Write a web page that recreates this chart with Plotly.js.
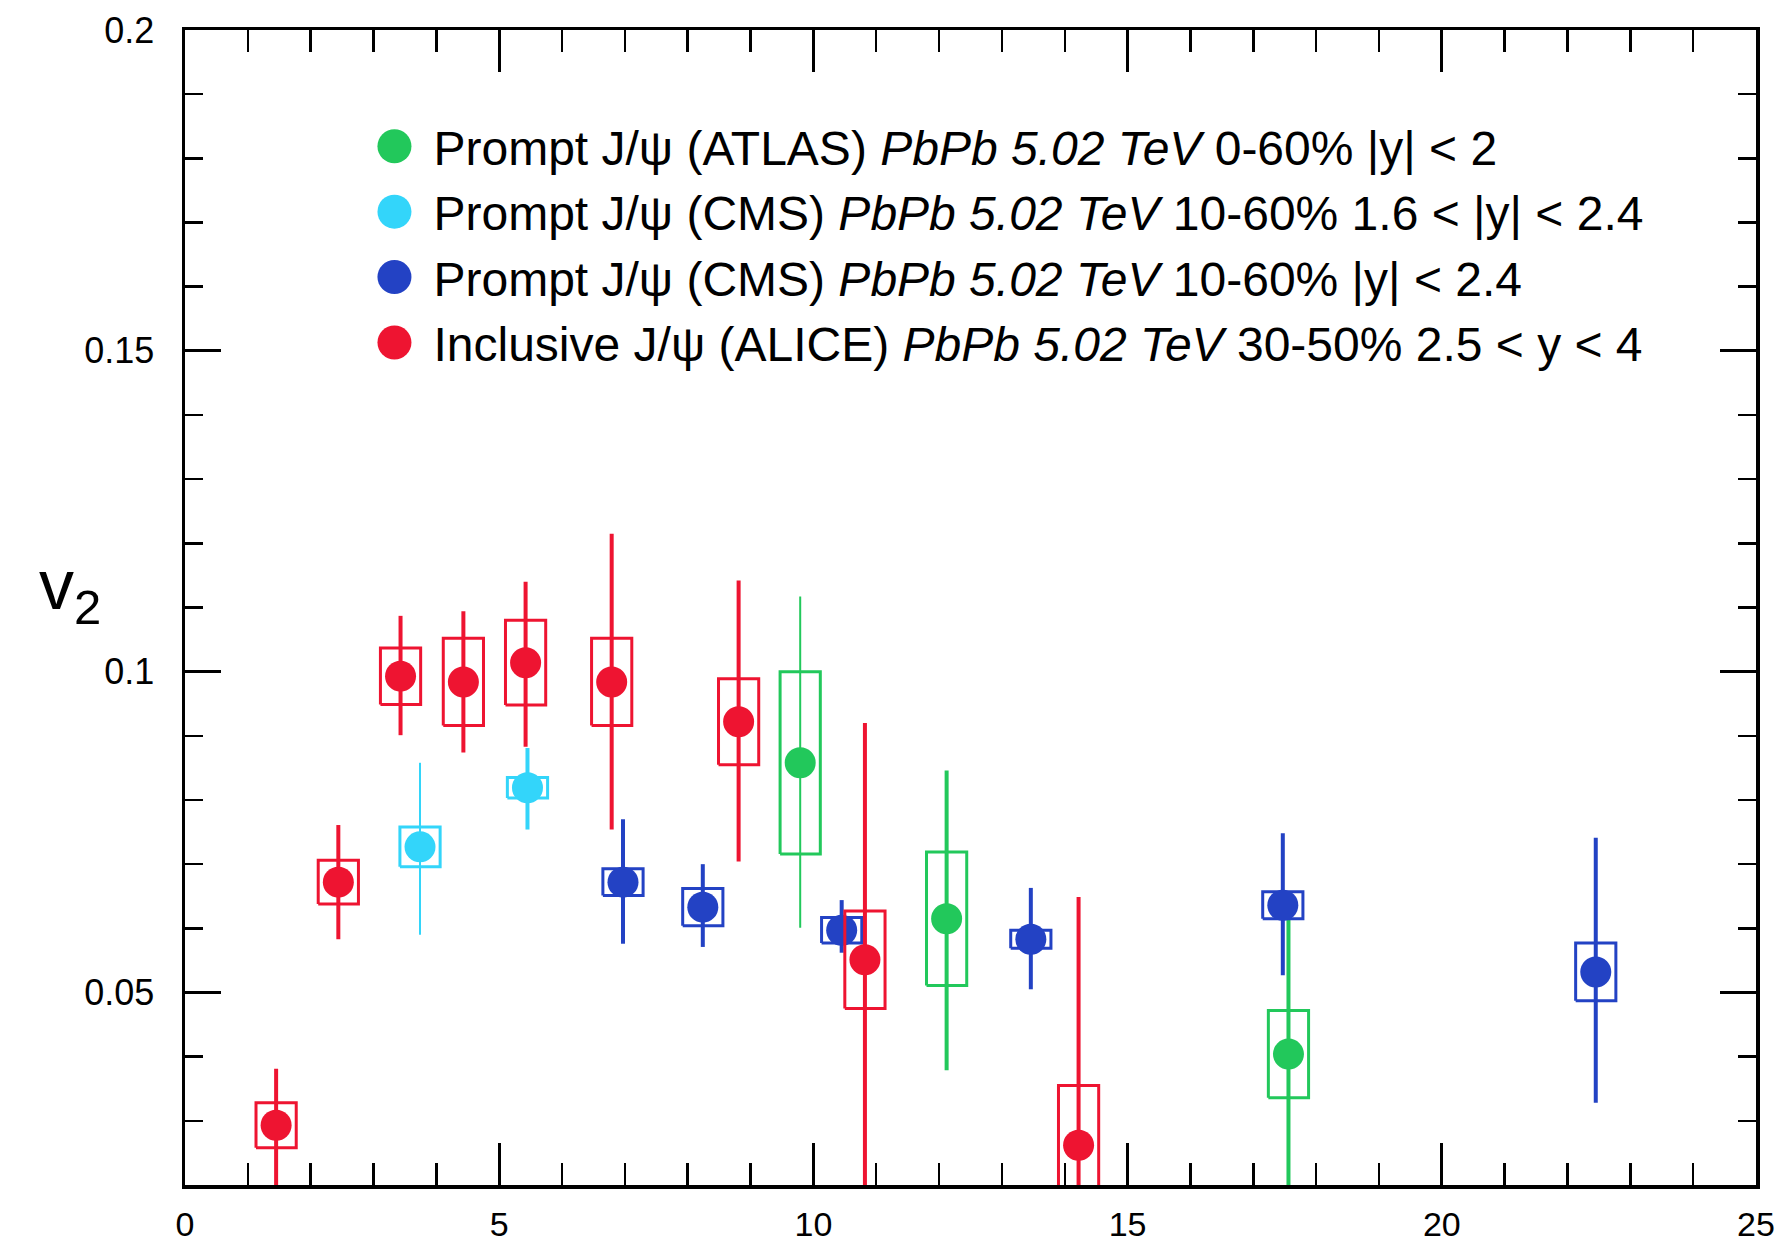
<!DOCTYPE html>
<html>
<head>
<meta charset="utf-8">
<script src="https://cdn.plot.ly/plotly-3.0.1.min.js"></script>
<style>
html, body { margin: 0; padding: 0; background: #fff; }
#chart { width: 1782px; height: 1248px; }
</style>
</head>
<body>
<div id="chart"></div>
<script>
// ---------- DATA ----------
// Prompt J/psi (ATLAS) PbPb 5.02 TeV 0-60% |y|<2
const atlasPt        = [9.79, 12.12, 17.56];
const atlasV2        = [0.0858, 0.0615, 0.0404];
const atlasStatUp    = [0.0259, 0.0231, 0.0226];
const atlasStatDown  = [0.0257, 0.0236, 0.0250];
const atlasSys       = [0.0142, 0.0104, 0.0068];

// Prompt J/psi (CMS) PbPb 5.02 TeV 10-60% 1.6<|y|<2.4
const cmsFwdPt       = [3.74, 5.45];
const cmsFwdV2       = [0.0727, 0.0819];
const cmsFwdStatUp   = [0.0131, 0.0062];
const cmsFwdStatDown = [0.0137, 0.0065];
const cmsFwdSys      = [0.0031, 0.0016];

// Prompt J/psi (CMS) PbPb 5.02 TeV 10-60% |y|<2.4
const cmsPt          = [6.97, 8.24, 10.45, 13.46, 17.47, 22.45];
const cmsV2          = [0.0672, 0.0633, 0.0597, 0.0583, 0.0636, 0.0532];
const cmsStatUp      = [0.0098, 0.0067, 0.0047, 0.0080, 0.0112, 0.0209];
const cmsStatDown    = [0.0096, 0.0062, 0.0035, 0.0078, 0.0109, 0.0204];
const cmsSys         = [0.0021, 0.0029, 0.0020, 0.0014, 0.0021, 0.0045];

// Inclusive J/psi (ALICE) PbPb 5.02 TeV 30-50% 2.5<y<4
const alicePt        = [1.45, 2.44, 3.43, 4.43, 5.42, 6.79, 8.81, 10.82, 14.22];
const aliceV2        = [0.0293, 0.0672, 0.0993, 0.0984, 0.1014, 0.0984, 0.0922, 0.0551, 0.0262];
const aliceStatUp    = [0.0088, 0.0089, 0.0094, 0.0110, 0.0126, 0.0231, 0.0220, 0.0369, 0.0387];
const aliceStatDown  = [0.0120, 0.0089, 0.0092, 0.0110, 0.0131, 0.0230, 0.0218, 0.0400, 0.0120];
const aliceSys       = [0.0035, 0.0034, 0.0044, 0.0068, 0.0066, 0.0068, 0.0067, 0.0076, 0.0093];

const legendLabels = [
  'Prompt J/ψ (ATLAS) <i>PbPb 5.02 TeV</i> 0-60% |y| &lt; 2',
  'Prompt J/ψ (CMS) <i>PbPb 5.02 TeV</i> 10-60% 1.6 &lt; |y| &lt; 2.4',
  'Prompt J/ψ (CMS) <i>PbPb 5.02 TeV</i> 10-60% |y| &lt; 2.4',
  'Inclusive J/ψ (ALICE) <i>PbPb 5.02 TeV</i> 30-50% 2.5 &lt; y &lt; 4'
];
const xTickVals = [0, 5, 10, 15, 20, 25];
const yTickVals = [0.05, 0.1, 0.15, 0.2];

// ---------- STYLE ----------
const FONT = 'Liberation Sans, Arial, Helvetica, sans-serif';
const BOX_HW = 0.32;        // half width of systematic boxes (in pT units)
const series = [
  { label: legendLabels[0], color: '#22c85b', x: atlasPt,  y: atlasV2,  su: atlasStatUp,  sd: atlasStatDown,  sys: atlasSys,  thin: [0] },
  { label: legendLabels[1], color: '#33d5fa', x: cmsFwdPt, y: cmsFwdV2, su: cmsFwdStatUp, sd: cmsFwdStatDown, sys: cmsFwdSys, thin: [0] },
  { label: legendLabels[2], color: '#2342c4', x: cmsPt,    y: cmsV2,    su: cmsStatUp,    sd: cmsStatDown,    sys: cmsSys,    thin: [] },
  { label: legendLabels[3], color: '#ee1431', x: alicePt,  y: aliceV2,  su: aliceStatUp,  sd: aliceStatDown,  sys: aliceSys,  thin: [] }
];

const traces = [];
series.forEach((s, k) => {
  const thick = { x: [], y: [] }, thin = { x: [], y: [] };
  const bx = [], by = [];
  s.x.forEach((xv, i) => {
    const t = s.thin.includes(i) ? thin : thick;
    t.x.push(xv, xv, null);
    t.y.push(s.y[i] - s.sd[i], s.y[i] + s.su[i], null);
    const x0 = xv - BOX_HW, x1 = xv + BOX_HW;
    const y0 = s.y[i] - s.sys[i], y1 = s.y[i] + s.sys[i];
    bx.push(x0, x1, x1, x0, x0, null);
    by.push(y0, y0, y1, y1, y0, null);
  });
  const grp = 'g' + k;
  traces.push({ type: 'scatter', mode: 'lines', x: thick.x, y: thick.y, legendgroup: grp, showlegend: false,
                line: { color: s.color, width: 4 }, hoverinfo: 'skip' });
  traces.push({ type: 'scatter', mode: 'lines', x: thin.x, y: thin.y, legendgroup: grp, showlegend: false,
                line: { color: s.color, width: 2 }, hoverinfo: 'skip' });
  traces.push({ type: 'scatter', mode: 'lines', x: bx, y: by, legendgroup: grp, showlegend: false,
                line: { color: s.color, width: 3 }, hoverinfo: 'skip' });
  traces.push({ type: 'scatter', mode: 'markers', x: s.x, y: s.y, name: s.label, legendgroup: grp,
                marker: { color: s.color, size: 31, symbol: 'circle', line: { width: 0 } }, cliponaxis: true });
});

const layout = {
  width: 1782, height: 1248,
  paper_bgcolor: '#fff', plot_bgcolor: '#fff',
  margin: { l: 185, r: 26, t: 30, b: 63 },
  font: { family: FONT, color: '#000' },
  showlegend: true,
  legend: {
    x: 0.1085, y: 0.932, xanchor: 'left', yanchor: 'top',
    bgcolor: 'rgba(0,0,0,0)', borderwidth: 0,
    font: { family: FONT, size: 48, color: '#000' },
    itemwidth: 68, tracegroupgap: 0, traceorder: 'grouped'
  },
  xaxis: {
    range: [0, 25], showgrid: false, zeroline: false,
    showline: true, linecolor: '#000', linewidth: 3.5, mirror: 'allticks',
    ticks: 'inside', ticklen: 42, tickwidth: 3, tickcolor: '#000',
    tickmode: 'array', tickvals: xTickVals,
    tickfont: { family: FONT, size: 34, color: '#000' },
    ticklabelstandoff: 7,
    minor: { ticks: 'inside', ticklen: 22, tickwidth: 2.5, tickcolor: '#000', dtick: 1, tick0: 0, showgrid: false }
  },
  yaxis: {
    range: [0.02, 0.2], showgrid: false, zeroline: false,
    showline: true, linecolor: '#000', linewidth: 3.5, mirror: 'allticks',
    ticks: 'inside', ticklen: 36, tickwidth: 3, tickcolor: '#000',
    tickmode: 'array', tickvals: yTickVals,
    tickfont: { family: FONT, size: 36, color: '#000' },
    ticklabelstandoff: 20,
    minor: { ticks: 'inside', ticklen: 18, tickwidth: 2.5, tickcolor: '#000', dtick: 0.01, tick0: 0, showgrid: false }
  },
  annotations: [{
    text: 'v<sub>2</sub>', xref: 'paper', yref: 'paper', x: -0.094, y: 0.515,
    xanchor: 'left', yanchor: 'middle', showarrow: false,
    font: { family: FONT, size: 70, color: '#000' }
  }]
};

Plotly.newPlot('chart', traces, layout, { staticPlot: true, displayModeBar: false }).then(gd => {
  // enlarge legend dots (plotly caps legend marker size at 16px)
  const r = 17;
  document.querySelectorAll('.legend .legendpoints path.scatterpts').forEach(p => {
    p.setAttribute('d', `M${r},0A${r},${r} 0 1,1 0,-${r}A${r},${r} 0 0,1 ${r},0Z`);
  });
});
</script>
</body>
</html>
